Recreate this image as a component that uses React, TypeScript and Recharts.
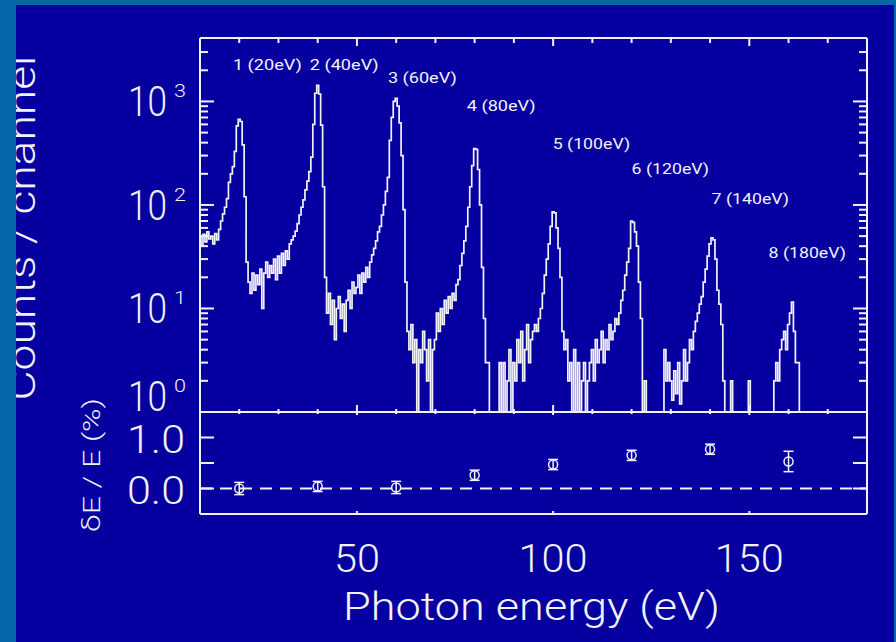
import React from 'react';
import { ComposedChart, Line, Scatter, XAxis, YAxis, ErrorBar, ReferenceLine } from 'recharts';

// ---------- data ----------
const E_START = 10;
const E_STEP = 0.5;
// counts per channel (0.5 eV channels from 10 eV), 0 = empty channel
const counts: number[] = [
  48, 40, 52, 44, 55, 47, 50, 42, 53, 46, 58, 70, 82, 95, 115, 165, 200, 235, 330, 580,
  670, 640, 380, 120, 28, 18, 14, 22, 15, 21, 17, 24, 10, 22, 28, 20, 26, 22, 30, 19,
  32, 22, 34, 26, 36, 30, 42, 46, 50, 56, 66, 80, 95, 112, 140, 170, 210, 290, 600, 1200,
  1430, 1180, 590, 150, 20, 9, 14, 7, 12, 5, 10, 13, 8, 11, 6, 12, 15, 10, 18, 14,
  16, 21, 14, 22, 18, 25, 20, 28, 33, 38, 45, 55, 62, 80, 100, 135, 185, 420, 700, 1000,
  1070, 900, 620, 300, 90, 18, 6, 4, 7, 3, 5, 0, 4, 3, 6, 4, 2, 5, 0, 4,
  5, 9, 6, 10, 7, 12, 9, 13, 10, 14, 12, 17, 19, 26, 34, 45, 62, 95, 150, 240,
  350, 345, 220, 100, 25, 8, 3, 3, 0, 0, 0, 0, 0, 3, 0, 3, 0, 2, 4, 0,
  3, 2, 5, 3, 6, 2, 4, 7, 3, 5, 6, 7, 6, 8, 10, 14, 21, 30, 42, 62,
  86, 84, 60, 38, 20, 6, 4, 5, 2, 3, 0, 4, 0, 3, 0, 2, 3, 0, 2, 3,
  4, 2, 5, 3, 4, 6, 3, 5, 4, 7, 5, 6, 8, 7, 9, 12, 15, 21, 28, 38,
  70, 68, 55, 40, 18, 8, 0, 2, 0, 0, 0, 0, 0, 0, 0, 0, 0, 4, 2, 3,
  2, 1.3, 2.5, 1.5, 3, 1.2, 2, 4, 2, 3, 5, 4, 6, 7.5, 9, 11, 13, 18, 24, 32,
  42, 48, 46, 30, 15, 11, 7, 2, 0, 0, 0, 2, 0, 0, 0, 0, 0, 0, 0, 0,
  2, 0, 0, 0, 0, 0, 0, 0, 0, 0, 0, 0, 0, 2, 3, 2, 4, 5, 6, 4,
  7, 9, 11.5, 6, 3, 3, 0, 0, 0, 0, 0, 0, 0, 0, 0, 0, 0, 0, 0, 0,
  0, 0, 0, 0, 0, 0, 0, 0, 0, 0, 0, 0, 0, 0, 0, 0, 0, 0, 0, 0,
];

const peakLabels = ['1 (20eV)', '2 (40eV)', '3 (60eV)', '4 (80eV)', '5 (100eV)', '6 (120eV)', '7 (140eV)', '8 (180eV)'];
const peakLabelE = [18.4, 38.0, 57.9, 78.0, 99.9, 120.0, 140.4, 154.9];
const peakLabelCount = [2260, 2260, 1675, 908, 391, 224, 115, 34];

const peakEnergies = [20, 40, 60, 80, 100, 120, 140, 160];
const resolutionDev = [0.0, 0.04, 0.02, 0.26, 0.47, 0.65, 0.77, 0.53];
const resolutionErr = [0.12, 0.1, 0.12, 0.1, 0.1, 0.1, 0.1, 0.2];

const xTicks = [20, 30, 40, 50, 60, 70, 80, 90, 100, 110, 120, 130, 140, 150, 160, 170];
const xMajorTicks = [50, 100, 150];
const logTicks = [1, 2, 3, 4, 5, 6, 7, 8, 9, 10, 20, 30, 40, 50, 60, 70, 80, 90, 100, 200, 300, 400, 500, 600, 700, 800, 900, 1000, 2000, 3000];
const devTicks = [0, 0.5, 1.0];
const devTickLabels = ['0.0', '', '1.0'];

// ---------- derived tables ----------
const spectrum = counts.map((c, i) => ({ e: E_START + i * E_STEP, c: c > 0 ? c : 0.1 }));
const labelData = peakLabels.map((t, i) => ({ e: peakLabelE[i], c: peakLabelCount[i], label: t }));
const devData = peakEnergies.map((e, i) => ({ e, d: resolutionDev[i], err: resolutionErr[i] }));

// ---------- style ----------
const BG = '#0600a0';
const FRAME = '#0867a9';
const FG = '#f2f2f6';
const FONT = 'Roboto, "DejaVu Sans", sans-serif';
const W = 896;
const H = 642;

const txt = { fontFamily: FONT, fontWeight: 300, fill: FG } as const;

const isDecade = (v: number) => {
  const ex = Math.round(Math.log10(v));
  return Math.abs(Math.pow(10, ex) - v) < 1e-6;
};

function TopLeftTick(props: any) {
  const { x, y, payload } = props;
  const v = payload.value;
  const major = isDecade(v);
  const ex = Math.round(Math.log10(v));
  const base = ex === 0 ? y - 1 : y + 15;
  return (
    <g>
      <line x1={x} x2={x + (major ? 14 : 8)} y1={y} y2={y} stroke={FG} strokeWidth={2} />
      {major && (
        <>
          <text x={x - 72} y={base} fontSize={42} textLength={39} lengthAdjust="spacingAndGlyphs" {...txt}>10</text>
          <text x={x - 26} y={base - 19} fontSize={19} textLength={12} lengthAdjust="spacingAndGlyphs" {...txt}>{String(ex)}</text>
        </>
      )}
    </g>
  );
}

function TopRightTick(props: any) {
  const { x, y, payload } = props;
  const major = isDecade(payload.value);
  return <line x1={x - (major ? 14 : 8)} x2={x} y1={y} y2={y} stroke={FG} strokeWidth={2} />;
}

function TopBottomXTick(props: any) {
  const { x, y, payload } = props;
  const major = xMajorTicks.includes(payload.value);
  return <line x1={x} x2={x} y1={y - (major ? 7 : 3)} y2={y + (major ? 3 : 2)} stroke={FG} strokeWidth={2} />;
}

function TopTopXTick(props: any) {
  const { x, y, payload } = props;
  const major = xMajorTicks.includes(payload.value);
  return <line x1={x} x2={x} y1={y} y2={y + (major ? 8 : 5)} stroke={FG} strokeWidth={2} />;
}

function DevLeftTick(props: any) {
  const { x, y, payload } = props;
  const label = devTickLabels[devTicks.indexOf(payload.value)] ?? '';
  return (
    <g>
      <line x1={x} x2={x + 14} y1={y} y2={y} stroke={FG} strokeWidth={2} />
      {label && (
        <text x={x - 73} y={y + 15} fontSize={39} textLength={58} lengthAdjust="spacingAndGlyphs" {...txt}>{label}</text>
      )}
    </g>
  );
}

function DevRightTick(props: any) {
  const { x, y } = props;
  return <line x1={x - 14} x2={x} y1={y} y2={y} stroke={FG} strokeWidth={2} />;
}

function DevBottomXTick(props: any) {
  const { x, y, payload } = props;
  const s = String(payload.value);
  const len = s.length * 23;
  return (
    <g>
      <line x1={x} x2={x} y1={y - 3} y2={y} stroke={FG} strokeWidth={2} />
      <text x={x - len / 2} y={y + 58} fontSize={38} textLength={len} lengthAdjust="spacingAndGlyphs" {...txt}>{s}</text>
    </g>
  );
}

function PeakLabel(props: any) {
  const { cx, cy, payload } = props;
  const t: string = payload.label;
  return (
    <text x={cx} y={cy + 5} fontSize={14} fontFamily={FONT} fontWeight={400} fill={FG}
      textLength={t.length * 8.6} lengthAdjust="spacingAndGlyphs">{t}</text>
  );
}

function OpenCircle(props: any) {
  const { cx, cy } = props;
  return <circle cx={cx} cy={cy} r={4.5} fill="none" stroke={FG} strokeWidth={1.5} />;
}

const axisLine = { stroke: FG, strokeWidth: 2 };

export default function App() {
  return (
    <div style={{ position: 'absolute', left: 0, top: 0, width: W, height: H, background: BG, overflow: 'hidden' }}>
      <div style={{ position: 'absolute', left: 0, top: 0 }}>
        <ComposedChart width={W} height={H} data={spectrum} margin={{ top: 37, right: 28, bottom: 229, left: 199 }}>
          <XAxis xAxisId="b" dataKey="e" type="number" domain={[10, 180]} ticks={xTicks} interval={0}
            allowDataOverflow height={1} tickSize={0} tickMargin={0} tickLine={false} axisLine={axisLine}
            tick={<TopBottomXTick />} />
          <XAxis xAxisId="t" orientation="top" dataKey="e" type="number" domain={[10, 180]} ticks={xTicks} interval={0}
            allowDataOverflow height={1} tickSize={0} tickMargin={0} tickLine={false} axisLine={axisLine}
            tick={<TopTopXTick />} />
          <YAxis yAxisId="l" dataKey="c" type="number" scale="log" domain={[1, 4100]} allowDataOverflow
            ticks={logTicks} interval={0} width={1} tickSize={0} tickMargin={0} tickLine={false} axisLine={axisLine}
            tick={<TopLeftTick />} />
          <YAxis yAxisId="r" orientation="right" dataKey="c" type="number" scale="log" domain={[1, 4100]} allowDataOverflow
            ticks={logTicks} interval={0} width={1} tickSize={0} tickMargin={0} tickLine={false} axisLine={axisLine}
            tick={<TopRightTick />} />
          <Line xAxisId="b" yAxisId="l" dataKey="c" type="step" stroke={FG} strokeWidth={1.7} dot={false}
            isAnimationActive={false} />
          <Scatter xAxisId="b" yAxisId="l" data={labelData} dataKey="c" shape={<PeakLabel />} isAnimationActive={false} />
        </ComposedChart>
      </div>
      <div style={{ position: 'absolute', left: 0, top: 0 }}>
        <ComposedChart width={W} height={H} data={devData} margin={{ top: 412, right: 28, bottom: 127, left: 199 }}>
          <XAxis dataKey="e" type="number" domain={[10, 180]} ticks={xMajorTicks} interval={0}
            height={1} tickSize={0} tickMargin={0} tickLine={false} axisLine={axisLine} tick={<DevBottomXTick />} />
          <YAxis yAxisId="l" dataKey="d" type="number" domain={[-0.5, 1.5]} ticks={devTicks} interval={0}
            width={1} tickSize={0} tickMargin={0} tickLine={false} axisLine={axisLine} tick={<DevLeftTick />} />
          <YAxis yAxisId="r" orientation="right" dataKey="d" type="number" domain={[-0.5, 1.5]} ticks={devTicks} interval={0}
            width={1} tickSize={0} tickMargin={0} tickLine={false} axisLine={axisLine} tick={<DevRightTick />} />
          <ReferenceLine yAxisId="l" y={0} stroke={FG} strokeWidth={2} strokeDasharray="12 8" />
          <Scatter yAxisId="l" dataKey="d" shape={<OpenCircle />} isAnimationActive={false}>
            <ErrorBar dataKey="err" direction="y" width={5} stroke={FG} strokeWidth={1.5} />
          </Scatter>
        </ComposedChart>
      </div>
      <svg width={W} height={H} style={{ position: 'absolute', left: 0, top: 0, pointerEvents: 'none' }}>
        <text x={35} y={228} transform="rotate(-90 35 228)" textAnchor="middle" fontSize={38}
          textLength={345} lengthAdjust="spacingAndGlyphs" {...txt}>Counts / channel</text>
        <text x={100} y={465} transform="rotate(-90 100 465)" textAnchor="middle" fontSize={24}
          textLength={134} lengthAdjust="spacingAndGlyphs" {...txt}>δE / E (%)</text>
        <text x={531.5} y={620} textAnchor="middle" fontSize={38}
          textLength={377} lengthAdjust="spacingAndGlyphs" {...txt}>Photon energy (eV)</text>
        <rect x={0} y={0} width={16} height={H} fill={FRAME} />
        <rect x={0} y={0} width={W} height={5} fill={FRAME} />
        <rect x={894} y={0} width={2} height={H} fill={FRAME} />
      </svg>
    </div>
  );
}
